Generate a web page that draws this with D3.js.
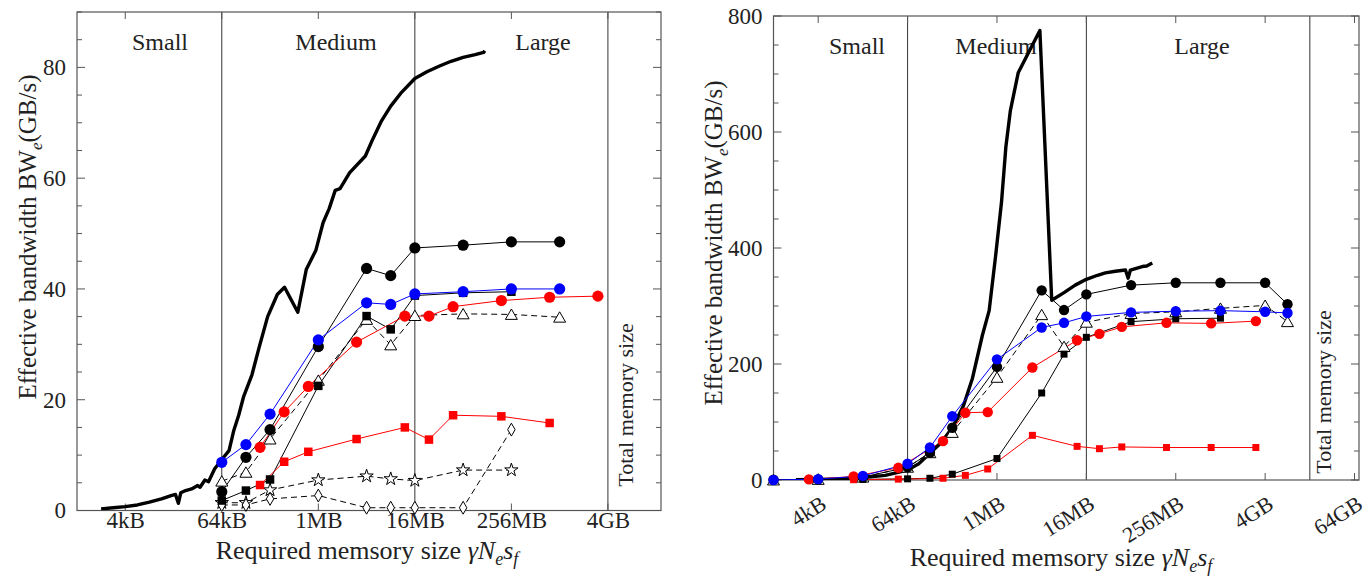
<!DOCTYPE html>
<html>
<head>
<meta charset="utf-8">
<script src="https://cdn.jsdelivr.net/npm/d3@7"></script>
<style>
  html, body { margin: 0; padding: 0; background: #fff; }
  svg { display: block; }
  text { font-family: "Liberation Serif", "Times New Roman", serif; fill: #222; }
</style>
</head>
<body>
<svg id="chart" width="1369" height="577"></svg>
<script>
// ---- x tick positions (log2 of bytes) and labels ----
const tickExpA = [12, 16, 20, 24, 28, 32];
const tickLabelA = ["4kB", "64kB", "1MB", "16MB", "256MB", "4GB"];
const tickExpB = [12, 16, 20, 24, 28, 32, 36];
const tickLabelB = ["4kB", "64kB", "1MB", "16MB", "256MB", "4GB", "64GB"];
const regionNames = ["Small", "Medium", "Large"];

// ---- panel A (left): effective bandwidth, GB/s ----
const peakA = [
  [11.0,0.3],[11.5,0.5],[12,0.7],[12.5,1.0],[13,1.5],[13.5,2.1],[13.9,2.7],[14.08,2.9],[14.2,1.3],
  [14.3,3.2],[14.5,3.6],[14.75,3.9],[15.0,4.5],[15.1,4.2],[15.3,5.5],[15.45,5.2],[15.7,7.5],
  [16.0,9.2],[16.3,10.8],[16.5,14.5],[16.7,17.2],[16.9,20.5],[17.25,24.5],[17.55,29.5],[17.9,35],
  [18.3,39],[18.6,40.3],[19.15,35.8],[19.5,43.5],[19.9,47],[20.2,52],[20.45,54.5],[20.7,57.8],
  [20.9,58.1],[21.3,61],[21.95,64],[22.25,67],[22.6,70.2],[23.0,73],[23.45,75.5],[24.0,78],
  [24.5,79.2],[25.0,80.2],[25.5,81.1],[26.0,81.8],[26.5,82.3],[26.85,82.7],[26.9,83]
];
const expA = [16, 17, 18, 20, 22, 23, 24, 26, 28, 30];
const expA3 = [17.585, 18.585, 19.585, 21.585, 23.585, 24.585, 25.585, 27.585, 29.585, 31.585];
const blackCircleA = [3.4, 9.6, 14.6, 29.6, 43.7, 42.4, 47.4, 47.9, 48.5, 48.5];
const blueCircleA  = [8.7, 11.9, 17.4, 30.8, 37.5, 37.2, 39.1, 39.5, 40.0, 40.0];
const redCircleA   = [11.4, 17.8, 22.4, 30.4, 35.1, 35.1, 36.8, 37.9, 38.5, 38.7];
const blackSquareA = [1.8, 3.6, 5.6, 22.5, 35.1, 32.7, 38.8, 39.3, 39.5];
const redSquareA   = [4.6, 8.8, 10.6, 12.9, 15.0, 12.8, 17.2, 17.0, 15.8];
const triangleA    = [5.3, 6.9, 12.9, 23.5, 34.5, 29.9, 35.2, 35.5, 35.4, 34.9];
const starA        = [1.4, 1.4, 3.7, 5.5, 6.2, 5.7, 5.4, 7.3, 7.3];
const diamondA     = [1.0, 1.0, 2.1, 2.7, 0.5, 0.5, 0.5, 0.5, 14.6];

// ---- panel B (right): effective bandwidth, GB/s ----
const peakB = [
  [11,0.5],[12,1],[13,2],[14,4],[15,8],[16,17],[16.5,28],[17,46],[17.5,64],[18,90],[18.5,128],
  [18.9,175],[19.35,250],[19.65,292],[19.95,390],[20.2,478],[20.4,575],[20.6,637],[20.95,702],
  [21.92,775],[22.45,310],[23.0,323],[23.5,336],[24.0,346],[24.5,353],[24.85,357],[25.3,360],
  [25.75,362],[25.87,348],[25.97,362],[26.5,368],[26.7,369],[26.95,374]
];
const expB = [10, 12, 14, 16, 17, 18, 20, 22, 23, 24, 26, 28, 30, 32, 33];
const expB3 = [11.585, 13.585, 15.585, 17.585, 18.585, 19.585, 21.585, 23.585, 24.585, 25.585, 27.585, 29.585, 31.585];
const blackCircleB = [0.5, 1, 5, 22, 47, 90, 195, 327, 293, 320, 336, 340, 340, 340, 303];
const blueCircleB  = [0, 1.5, 7, 28, 56, 110, 208, 263, 271, 282, 289, 291, 292, 290, 288];
const redCircleB   = [1, 6, 21, 67, 116, 117, 194, 241, 252, 264, 271, 270, 274];
const expBsq = [12, 14, 16, 17, 18, 20, 22, 23, 24, 26, 28, 30];
const blackSquareB = [0.5, 1, 2, 3, 10, 37, 150, 217, 246, 273, 278, 279];
const redSquareB   = [0.5, 1.5, 3, 8, 19, 77, 58, 54, 57, 56, 56, 56];
const triangleB    = [0, 1, 5, 22, 47, 82, 177, 285, 230, 272, 287, 290, 296, 301, 273];

const zip = (xs, ys) => ys.map((y, i) => [xs[i], y]);

const panels = [
  {
    box: { x0: 77, x1: 661, y0: 12, y1: 510.5 },
    xMaxExp: 34.2, yMax: 90, yMajor: 20, yMinor: 5,
    ticks: tickExpA, tickLabels: tickLabelA,
    rotateTicks: false,
    bounds: [16, 24], totalExp: 32,
    regionPos: [[160, 50], [336, 50], [543, 50]],
    totalLabel: [633, 405],
    yTitle: [36, 237], xTitle: [367, 559],
    peak: peakA,
    series: [
      { pts: zip(expA, triangleA), color: "#000", dash: "6,4", sym: "triangle", fill: false },
      { pts: zip(expA, starA), color: "#000", dash: "6,4", sym: "star", fill: false },
      { pts: zip(expA, diamondA), color: "#000", dash: "6,4", sym: "diamond", fill: false },
      { pts: zip(expA, blackSquareA), color: "#000", sym: "square", fill: true },
      { pts: zip(expA3, redSquareA), color: "#f00", sym: "square", fill: true },
      { pts: zip(expA3, redCircleA), color: "#f00", sym: "circle", fill: true },
      { pts: zip(expA, blackCircleA), color: "#000", sym: "circle", fill: true },
      { pts: zip(expA, blueCircleA), color: "#00f", sym: "circle", fill: true }
    ],
    rCircle: 5.6, sq: 8.5
  },
  {
    box: { x0: 773.5, x1: 1359, y0: 16, y1: 480 },
    xMaxExp: 36.2, yMax: 800, yMajor: 200, yMinor: 50,
    ticks: tickExpB, tickLabels: tickLabelB,
    rotateTicks: true,
    bounds: [16, 24], totalExp: 34,
    regionPos: [[857, 54], [996, 54], [1202, 54]],
    totalLabel: [1331, 392],
    yTitle: [722, 243], xTitle: [1061, 566],
    peak: peakB,
    series: [
      { pts: zip(expB, triangleB), color: "#000", dash: "6,4", sym: "triangle", fill: false },
      { pts: zip(expBsq, blackSquareB), color: "#000", sym: "square", fill: true },
      { pts: zip(expB3.slice(1), redSquareB), color: "#f00", sym: "square", fill: true },
      { pts: zip(expB3, redCircleB), color: "#f00", sym: "circle", fill: true },
      { pts: zip(expB, blackCircleB), color: "#000", sym: "circle", fill: true },
      { pts: zip(expB, blueCircleB), color: "#00f", sym: "circle", fill: true }
    ],
    rCircle: 5.2, sq: 7
  }
];

const svg = d3.select("#chart");
const frameColor = "#555";

panels.forEach(p => {
  const b = p.box;
  const x = d3.scaleLog().base(2).domain([2 ** 10, 2 ** p.xMaxExp]).range([b.x0, b.x1]);
  const y = d3.scaleLinear().domain([0, p.yMax]).range([b.y1, b.y0]);
  const X = e => x(2 ** e);
  const g = svg.append("g");

  // clip to plot area
  const clipId = "clip" + Math.round(b.x0);
  g.append("clipPath").attr("id", clipId).append("rect")
    .attr("x", b.x0).attr("y", b.y0).attr("width", b.x1 - b.x0).attr("height", b.y1 - b.y0);

  // region boundaries and total memory line
  [...p.bounds, p.totalExp].forEach(e => {
    g.append("line").attr("x1", X(e)).attr("x2", X(e)).attr("y1", b.y0).attr("y2", b.y1)
      .attr("stroke", "#333").attr("stroke-width", 1);
  });

  // y axis ticks (major + minor), both sides, inward
  d3.range(0, p.yMax + 0.001, p.yMinor).forEach(v => {
    const major = Math.abs(v / p.yMajor - Math.round(v / p.yMajor)) < 1e-6;
    const len = major ? 8 : 5;
    g.append("line").attr("x1", b.x0).attr("x2", b.x0 + len).attr("y1", y(v)).attr("y2", y(v))
      .attr("stroke", frameColor).attr("stroke-width", 1);
    g.append("line").attr("x1", b.x1).attr("x2", b.x1 - len).attr("y1", y(v)).attr("y2", y(v))
      .attr("stroke", frameColor).attr("stroke-width", 1);
  });
  const yAxis = d3.axisLeft(y).tickValues(d3.range(0, p.yMax + 0.001, p.yMajor))
    .tickSize(0).tickPadding(11).tickFormat(d3.format("d"));
  const ya = g.append("g").attr("transform", `translate(${b.x0},0)`).call(yAxis);
  ya.select(".domain").remove();
  ya.selectAll("text").style("font-family", '"Liberation Serif", serif').style("font-size", "23px").attr("fill", "#222");

  // x axis ticks, top and bottom, inward
  p.ticks.forEach(e => {
    g.append("line").attr("x1", X(e)).attr("x2", X(e)).attr("y1", b.y1).attr("y2", b.y1 - 7)
      .attr("stroke", frameColor);
    g.append("line").attr("x1", X(e)).attr("x2", X(e)).attr("y1", b.y0).attr("y2", b.y0 + 7)
      .attr("stroke", frameColor);
  });
  const xAxis = d3.axisBottom(x).tickValues(p.ticks.map(e => 2 ** e))
    .tickSize(0).tickPadding(p.rotateTicks ? 8 : 1)
    .tickFormat((d, i) => p.tickLabels[i]);
  const xa = g.append("g").attr("transform", `translate(0,${b.y1})`).call(xAxis);
  xa.select(".domain").remove();
  xa.selectAll("text").style("font-family", '"Liberation Serif", serif').attr("fill", "#222");
  if (p.rotateTicks) {
    xa.selectAll("text").style("font-size", "22px").attr("text-anchor", "end").attr("dy", 0)
      .attr("transform", "translate(5,21) rotate(-32)");
  } else {
    xa.selectAll("text").style("font-size", "23px").attr("dy", "0.71em");
  }

  // frame
  g.append("rect").attr("x", b.x0).attr("y", b.y0).attr("width", b.x1 - b.x0).attr("height", b.y1 - b.y0)
    .attr("fill", "none").attr("stroke", frameColor).attr("stroke-width", 1.2);

  // region labels
  regionNames.forEach((n, i) => {
    g.append("text").attr("x", p.regionPos[i][0]).attr("y", p.regionPos[i][1])
      .attr("text-anchor", "middle").style("font-size", "24px").text(n);
  });
  g.append("text").attr("transform", `translate(${p.totalLabel[0]},${p.totalLabel[1]}) rotate(-90)`)
    .attr("text-anchor", "middle").style("font-size", "22px").text("Total memory size");

  // axis titles
  const yt = g.append("text").attr("transform", `translate(${p.yTitle[0]},${p.yTitle[1]}) rotate(-90)`)
    .attr("text-anchor", "middle").style("font-size", "25px");
  yt.append("tspan").text("Effective bandwidth BW");
  yt.append("tspan").text("e").style("font-style", "italic").style("font-size", "17px").attr("dy", 6);
  yt.append("tspan").text("(GB/s)").attr("dy", -6);

  const xt = g.append("text").attr("x", p.xTitle[0]).attr("y", p.xTitle[1])
    .attr("text-anchor", "middle").style("font-size", "26px");
  xt.append("tspan").text("Required memsory size ");
  xt.append("tspan").text("γN").style("font-style", "italic");
  xt.append("tspan").text("e").style("font-style", "italic").style("font-size", "18px").attr("dy", 6);
  xt.append("tspan").text("s").style("font-style", "italic").style("font-size", "26px").attr("dy", -6);
  xt.append("tspan").text("f").style("font-style", "italic").style("font-size", "18px").attr("dy", 6);

  const plot = g.append("g").attr("clip-path", `url(#${clipId})`);

  // bold reference curve
  plot.append("path").datum(p.peak)
    .attr("d", d3.line().x(d => X(d[0])).y(d => y(d[1])))
    .attr("fill", "none").attr("stroke", "#000").attr("stroke-width", 3.4)
    .attr("stroke-linejoin", "round");

  const symType = {
    circle: d3.symbolCircle, square: d3.symbolSquare, triangle: d3.symbolTriangle,
    star: d3.symbolStar, diamond: d3.symbolDiamond
  };
  const symSize = {
    circle: Math.PI * p.rCircle * p.rCircle, square: p.sq * p.sq, triangle: 62,
    star: 55, diamond: 48
  };

  p.series.forEach(s => {
    plot.append("path").datum(s.pts)
      .attr("d", d3.line().x(d => X(d[0])).y(d => y(d[1])))
      .attr("fill", "none").attr("stroke", s.color).attr("stroke-width", 1)
      .attr("stroke-dasharray", s.dash || null);
  });
  p.series.forEach(s => {
    const sym = d3.symbol().type(symType[s.sym]).size(symSize[s.sym]);
    g.append("g").selectAll("path").data(s.pts).join("path")
      .attr("transform", d => `translate(${X(d[0])},${y(d[1])})` + (s.sym === "triangle" ? " translate(0,1.5)" : ""))
      .attr("d", sym)
      .attr("fill", s.fill ? s.color : "#fff")
      .attr("stroke", s.fill ? "none" : "#000")
      .attr("stroke-width", 1);
  });
});
</script>
</body>
</html>
